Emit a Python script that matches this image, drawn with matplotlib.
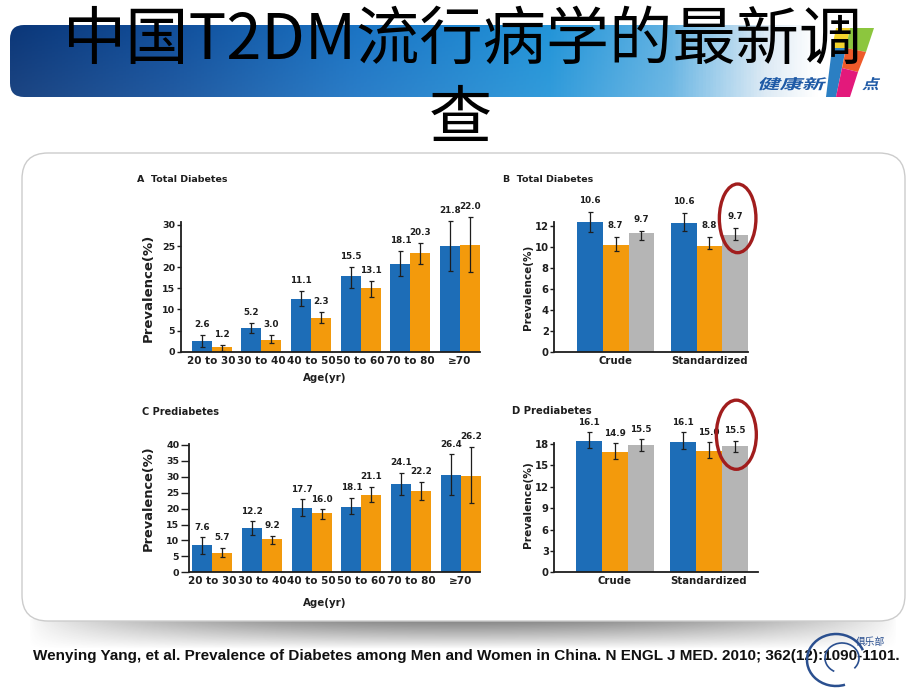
import numpy as np
import matplotlib
matplotlib.use("Agg")
import matplotlib.pyplot as plt
from matplotlib.patches import FancyBboxPatch, Ellipse, Polygon, Arc, PathPatch
from matplotlib.textpath import TextPath
from matplotlib.font_manager import FontProperties, findfont
from matplotlib.transforms import Affine2D
from matplotlib.colors import LinearSegmentedColormap

plt.rcParams['font.family'] = ['DejaVu Sans']
plt.rcParams['font.weight'] = 'bold'

W, H, DPI = 920, 690, 100

# ---------------- data ----------------
age_groups = ["20 to 30", "30 to 40", "40 to 50", "50 to 60", "70 to 80", "≥70"]

# A  Total Diabetes (bar heights, error bounds, printed labels)
a_men = [2.6, 5.6, 12.5, 17.9, 20.8, 25.0]
a_men_lo = [1.2, 4.5, 10.8, 15.2, 17.9, 19.1]
a_men_hi = [3.9, 6.8, 14.4, 20.1, 23.9, 31.0]
a_men_labels = ["2.6", "5.2", "11.1", "15.5", "18.1", "21.8"]
a_women = [1.0, 2.8, 8.0, 15.1, 23.3, 25.3]
a_women_lo = [0.2, 2.0, 6.7, 13.0, 20.7, 18.8]
a_women_hi = [1.6, 3.9, 9.5, 16.8, 25.8, 31.8]
a_women_labels = ["1.2", "3.0", "2.3", "13.1", "20.3", "22.0"]

# C  Prediabetes
c_men = [8.6, 14.0, 20.1, 20.6, 27.6, 30.6]
c_men_lo = [5.9, 11.7, 17.8, 18.3, 24.3, 24.3]
c_men_hi = [11.0, 16.1, 23.0, 23.5, 31.3, 37.1]
c_men_labels = ["7.6", "12.2", "17.7", "18.1", "24.1", "26.4"]
c_women = [6.2, 10.4, 18.5, 24.3, 25.6, 30.3]
c_women_lo = [4.9, 8.9, 16.7, 22.2, 22.7, 21.7]
c_women_hi = [7.75, 11.5, 19.9, 26.9, 28.5, 39.5]
c_women_labels = ["5.7", "9.2", "16.0", "21.1", "22.2", "26.2"]

rate_types = ["Crude", "Standardized"]

# B  Total Diabetes
b_men = [12.38, 12.29]
b_men_lo = [11.37, 11.49]
b_men_hi = [13.33, 13.24]
b_men_labels = ["10.6", "10.6"]
b_women = [10.16, 10.06]
b_women_lo = [9.59, 9.75]
b_women_hi = [10.95, 10.92]
b_women_labels = ["8.7", "8.8"]
b_total = [11.27, 11.11]
b_total_lo = [10.6, 10.6]
b_total_hi = [11.49, 11.81]
b_total_labels = ["9.7", "9.7"]

# D  Prediabetes
d_men = [18.47, 18.33]
d_men_lo = [17.39, 17.25]
d_men_hi = [19.64, 19.64]
d_men_labels = ["16.1", "16.1"]
d_women = [16.83, 17.02]
d_women_lo = [15.85, 15.99]
d_women_hi = [18.09, 18.23]
d_women_labels = ["14.9", "15.0"]
d_total = [17.86, 17.72]
d_total_lo = [17.02, 16.92]
d_total_hi = [18.65, 18.47]
d_total_labels = ["15.5", "15.5"]

TITLE_1 = "中国T2DM流行病学的最新调"
TITLE_2 = "查"
CITATION = ("Wenying Yang, et al. Prevalence of Diabetes among Men and Women in China. "
            "N ENGL J MED. 2010; 362(12):1090-1101.")

BLUE = "#1d6db7"
ORANGE = "#f39a0c"
GRAY = "#b5b5b5"
TXT = "#1e1e1e"
RED = "#a11d1d"

fig = plt.figure(figsize=(W / DPI, H / DPI), dpi=DPI)
fig.patch.set_facecolor("white")

bg = fig.add_axes([0, 0, 1, 1], zorder=-1)
bg.axis("off")

# ---- banner ----
bx0, bx1, by0, by1 = 10, 880, 25, 97
stops = [(0.0, "#0b3779"), (0.18, "#114e9a"), (0.40, "#1b74c4"), (0.62, "#2294d8"),
         (0.76, "#62b2e2"), (0.87, "#dbe9f4"), (0.93, "#ffffff"), (1.0, "#ffffff")]
cmap = LinearSegmentedColormap.from_list("banner", stops)
grad = np.repeat(np.linspace(0, 1, 600)[None, :], 50, axis=0)
img = cmap(grad)
vshade = (0.93 + 0.07 * np.linspace(1, 0, 50))[:, None]
img[..., :3] = 1 - (1 - img[..., :3]) * vshade[..., None]
im = bg.imshow(img, extent=[bx0, bx1, by1, by0], origin="upper", aspect="auto", zorder=1)
clip = FancyBboxPatch((bx0, by0), bx1 - bx0, by1 - by0,
                      boxstyle="round,pad=0,rounding_size=14", fc="none", ec="none")
bg.add_patch(clip)
im.set_clip_path(clip)

# logo shapes
logo_polys = [
    ([(836, 28), (850, 28), (846, 48), (832, 48)], "#f3d32c"),
    ([(850, 28), (874, 28), (866, 52), (846, 48)], "#8cc63e"),
    ([(832, 48), (846, 48), (836, 97), (826, 97)], "#2b7fc3"),
    ([(846, 48), (866, 52), (858, 72), (842, 68)], "#ee5a2a"),
    ([(842, 68), (858, 72), (850, 97), (836, 97)], "#e3197b"),
]
for pts, col in logo_polys:
    bg.add_patch(Polygon(pts, closed=True, fc=col, ec="none", zorder=2))

cjk_bold = FontProperties(family="Noto Sans CJK SC", weight="bold")
for s, x0, sxf in [("健康新", 757, 1.6), ("点", 862, 1.2)]:
    tp = TextPath((0, 0), s, size=14, prop=cjk_bold)
    tr = Affine2D().skew_deg(12, 0).scale(sxf, -1.0).translate(x0, 89)
    bg.add_patch(PathPatch(tr.transform_path(tp), fc="#1f5aa6", ec="none", zorder=3))

# ---- shadow under panel ----
nx, ny = 400, 60
xs_ = np.linspace(0, 1, nx)
ys_ = np.linspace(0, 1, ny)
alpha = 0.72 * np.outer((1 - ys_) ** 0.9, np.sin(np.pi * xs_) ** 0.7)
rgba = np.zeros((ny, nx, 4))
rgba[..., :3] = 0.3
rgba[..., 3] = alpha
bg.imshow(rgba, extent=[28, 898, 649, 619], origin="upper", aspect="auto", zorder=1)

# ---- panel ----
bg.add_patch(FancyBboxPatch((22, 153), 883, 468, boxstyle="round,pad=0,rounding_size=26",
                            fc="white", ec="#cccccc", lw=1.0, zorder=2))

# ---- title ----
tfont = dict(family=["Noto Sans CJK SC", "DejaVu Sans"], fontweight="normal",
             color="black", fontsize=45.5, zorder=5)
bg.text(463, 41, TITLE_1, ha="center", va="center", **tfont)
bg.text(460, 120, TITLE_2, ha="center", va="center", **tfont)


def have(fam):
    try:
        findfont(FontProperties(family=fam), fallback_to_default=False)
        return True
    except Exception:
        return False


cit_fam = "Liberation Sans Narrow" if have("Liberation Sans Narrow") else "Liberation Sans"
cit = bg.text(466, 656, CITATION, ha="center", va="center", fontsize=11, fontweight="bold",
              family=[cit_fam, "DejaVu Sans"], color="#111111", zorder=5)

# watermark swirl
bg.add_patch(Arc((836, 660), 58, 52, theta1=70, theta2=340, color="#2a4f8f", lw=1.8, zorder=6))
bg.add_patch(Arc((842, 658), 34, 30, theta1=120, theta2=400, color="#2a4f8f", lw=1.2, zorder=6))
bg.text(870, 642, "俱乐部", ha="center", va="center", fontsize=7, color="#2a4f8f",
        family=["Noto Sans CJK SC"], fontweight="normal", zorder=6)

bg.set_xlim(0, W)
bg.set_ylim(H, 0)


def make_axes(xpix, xval, ypix, yval, xlim, ylim):
    sx = (xpix[1] - xpix[0]) / (xval[1] - xval[0])
    sy = (ypix[1] - ypix[0]) / (yval[1] - yval[0])
    l = xpix[0] + (xlim[0] - xval[0]) * sx
    r = xpix[0] + (xlim[1] - xval[0]) * sx
    b = ypix[0] + (ylim[0] - yval[0]) * sy
    t = ypix[0] + (ylim[1] - yval[0]) * sy
    ax = fig.add_axes([l / W, 1 - b / H, (r - l) / W, (b - t) / H], zorder=3)
    ax.set_xlim(*xlim)
    ax.set_ylim(*ylim)
    ax.patch.set_visible(False)
    for s in ("top", "right"):
        ax.spines[s].set_visible(False)
    for s in ("left", "bottom"):
        ax.spines[s].set_linewidth(1.3)
        ax.spines[s].set_color(TXT)
    return ax


def draw_groups(ax, cats, series, width, colors, lab_off, yticks, xfs, yfs,
                ytick_len=3, lab_fs=6.3):
    x = np.arange(len(cats))
    k = len(series)
    for j, (vals, lo, hi, labs) in enumerate(series):
        xs = x + (j - (k - 1) / 2) * width
        vals = np.asarray(vals, float)
        lo = np.asarray(lo, float)
        hi = np.asarray(hi, float)
        ax.bar(xs, vals, width, color=colors[j], linewidth=0, zorder=2, clip_on=False)
        eb = ax.errorbar(xs, vals, yerr=[vals - lo, hi - vals], fmt="none", ecolor=TXT,
                         elinewidth=0.9, capsize=1.8, capthick=0.9, zorder=3)
        for c in eb.get_children():
            c.set_clip_on(False)
        for xi, h, t in zip(xs, hi, labs):
            ax.annotate(t, (xi, h), xytext=(0, lab_off), textcoords="offset points",
                        ha="center", va="center", fontsize=lab_fs, fontweight="bold",
                        color=TXT, annotation_clip=False)
    ax.set_xticks(x, cats)
    ax.set_yticks(yticks)
    ax.tick_params(axis="x", length=0, pad=3, labelsize=xfs, colors=TXT)
    ax.tick_params(axis="y", length=ytick_len, width=1, pad=1, labelsize=yfs, colors=TXT)


def ptext(px, py, s, **kw):
    kw.setdefault("color", TXT)
    kw.setdefault("fontweight", "bold")
    bg.text(px, py, s, zorder=5, **kw)


# ---- A ----
axA = make_axes((211.7, 460.0), (0, 5), (351.7, 225.0), (0, 30), (-0.624, 5.4), (0, 30.6))
draw_groups(axA, age_groups,
            [(a_men, a_men_lo, a_men_hi, a_men_labels),
             (a_women, a_women_lo, a_women_hi, a_women_labels)],
            0.4, [BLUE, ORANGE], 7.5, np.arange(0, 31, 5), 7.5, 6.8)
ptext(136.7, 180, "A  Total Diabetes", ha="left", va="center", fontsize=6.8)
ptext(148.3, 287.5, "Prevalence(%)", ha="center", va="center", rotation=90, fontsize=9.5)
ptext(325, 378, "Age(yr)", ha="center", va="center", fontsize=7.4)

# ---- C ----
axC = make_axes((212.3, 460.7), (0, 5), (572.3, 445.0), (0, 40), (-0.47, 5.39), (0, 40.4))
draw_groups(axC, age_groups,
            [(c_men, c_men_lo, c_men_hi, c_men_labels),
             (c_women, c_women_lo, c_women_hi, c_women_labels)],
            0.4, [BLUE, ORANGE], 7.0, np.arange(0, 41, 5), 7.5, 6.8, ytick_len=6)
ptext(141.7, 411.7, "C Prediabetes", ha="left", va="center", fontsize=7.0)
ptext(148.3, 498, "Prevalence(%)", ha="center", va="center", rotation=90, fontsize=9.4)
ptext(325, 603.3, "Age(yr)", ha="center", va="center", fontsize=7.4)

# ---- B ----
axB = make_axes((615.7, 709.5), (0, 1), (351.7, 225.7), (0, 12), (-0.655, 1.41), (0, 12.4))
draw_groups(axB, rate_types,
            [(b_men, b_men_lo, b_men_hi, b_men_labels),
             (b_women, b_women_lo, b_women_hi, b_women_labels),
             (b_total, b_total_lo, b_total_hi, b_total_labels)],
            0.273, [BLUE, ORANGE, GRAY], 8.0, np.arange(0, 13, 2), 7.3, 7.2)
ptext(503.3, 180, "B  Total Diabetes", ha="left", va="center", fontsize=6.8)
ptext(527.7, 287.5, "Prevalence(%)", ha="center", va="center", rotation=90, fontsize=7.5)
axB.add_patch(Ellipse((1.30, 12.7), 0.39, 6.54, fill=False, ec=RED, lw=2.4,
                      clip_on=False, zorder=6))

# ---- D ----
axD = make_axes((614.7, 709.0), (0, 1), (572.3, 444.0), (0, 18), (-0.64, 1.52), (0, 18.1))
draw_groups(axD, rate_types,
            [(d_men, d_men_lo, d_men_hi, d_men_labels),
             (d_women, d_women_lo, d_women_hi, d_women_labels),
             (d_total, d_total_lo, d_total_hi, d_total_labels)],
            0.276, [BLUE, ORANGE, GRAY], 7.0, np.arange(0, 19, 3), 7.3, 7.2)
ptext(511.7, 411, "D Prediabetes", ha="left", va="center", fontsize=7.2)
ptext(527.7, 505, "Prevalence(%)", ha="center", va="center", rotation=90, fontsize=7.7)
axD.add_patch(Ellipse((1.29, 19.3), 0.424, 9.7, fill=False, ec=RED, lw=2.4,
                      clip_on=False, zorder=6))

# fit citation width
fig.canvas.draw()
rend = fig.canvas.get_renderer()
wpx = cit.get_window_extent(rend).width
cit.set_fontsize(11 * 868 / wpx)

fig.savefig("out.png", dpi=DPI)
